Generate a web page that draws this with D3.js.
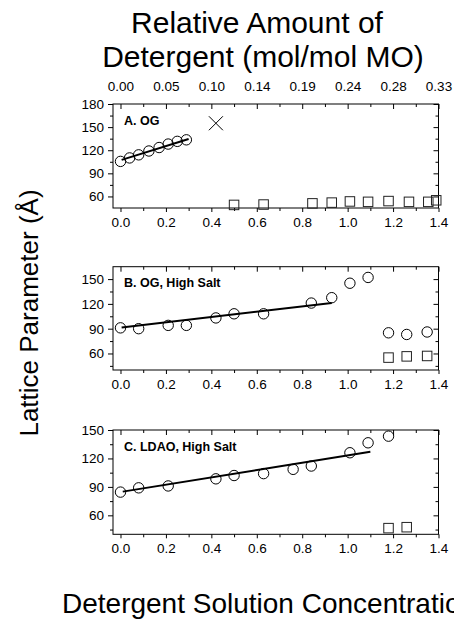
<!DOCTYPE html>
<html>
<head>
<meta charset="utf-8">
<script src="https://cdn.jsdelivr.net/npm/d3@7"></script>
<style>
  body { margin: 0; background: #fff; }
  text { font-family: "Liberation Sans", Arial, sans-serif; }
</style>
</head>
<body>
<div id="chart"></div>
<script>
// Bottom / top axis ticks (top labels = mol/mol MO at same positions)
var concTicks = [0.0, 0.2, 0.4, 0.6, 0.8, 1.0, 1.2, 1.4];
var topTickLabels = ["0.00", "0.05", "0.10", "0.14", "0.19", "0.24", "0.28", "0.33"];

// Panel A. OG
var ogX = [0, 0.04, 0.08, 0.125, 0.17, 0.21, 0.25, 0.29];
var ogY = [105.5, 110, 114, 119, 123.5, 128, 131.5, 133.5];
var ogFitX = [0.005, 0.30];
var ogFitY = [107.5, 134.5];
var ogCrossX = [0.42];
var ogCrossY = [155];
var ogSqX = [0.50, 0.63, 0.845, 0.93, 1.01, 1.09, 1.18, 1.27, 1.355, 1.39];
var ogSqY = [49, 49.5, 51, 52, 53.5, 53, 54, 53, 53, 55];

// Panel B. OG, High Salt
var ogSaltX = [0, 0.08, 0.21, 0.29, 0.42, 0.50, 0.63, 0.84, 0.93, 1.01, 1.09, 1.18, 1.26, 1.35];
var ogSaltY = [91, 90, 94, 94, 103, 108, 108, 121, 127.5, 145, 152, 85, 83, 86];
var ogSaltFitX = [0.005, 0.93];
var ogSaltFitY = [91.5, 121];
var ogSaltSqX = [1.18, 1.26, 1.35];
var ogSaltSqY = [55, 56.5, 57];

// Panel C. LDAO, High Salt
var ldaoX = [0, 0.08, 0.21, 0.42, 0.50, 0.63, 0.76, 0.84, 1.01, 1.09, 1.18];
var ldaoY = [84.5, 89, 91, 98.5, 102, 104, 108.5, 112, 126, 136.5, 143.5];
var ldaoFitX = [0.01, 1.10];
var ldaoFitY = [85, 127];
var ldaoSqX = [1.18, 1.26];
var ldaoSqY = [46.5, 47.5];

var width = 454, height = 619;
var left = 113, right = 438.5;

var svg = d3.select('#chart')
    .append('svg')
    .attr('width', width)
    .attr('height', height);

var x = d3.scaleLinear().domain([-0.033, 1.4]).range([left, right]);

var panels = [
    { label: 'A. OG', top: 104, bottom: 208, yDomain: [45, 180],
      yTicks: [60, 90, 120, 150, 180], yMinor: [75, 105, 135, 165],
      cx: ogX, cy: ogY, fx: ogFitX, fy: ogFitY, sx: ogSqX, sy: ogSqY,
      xx: ogCrossX, xy: ogCrossY, topLabels: true },
    { label: 'B. OG, High Salt', top: 266.7, bottom: 370, yDomain: [40, 165],
      yTicks: [60, 90, 120, 150], yMinor: [45, 75, 105, 135],
      cx: ogSaltX, cy: ogSaltY, fx: ogSaltFitX, fy: ogSaltFitY, sx: ogSaltSqX, sy: ogSaltSqY,
      xx: [], xy: [], topLabels: false },
    { label: 'C. LDAO, High Salt', top: 430, bottom: 534.3, yDomain: [40, 150],
      yTicks: [60, 90, 120, 150], yMinor: [45, 75, 105, 135],
      cx: ldaoX, cy: ldaoY, fx: ldaoFitX, fy: ldaoFitY, sx: ldaoSqX, sy: ldaoSqY,
      xx: [], xy: [], topLabels: false }
];

var minorX = [0.1, 0.3, 0.5, 0.7, 0.9, 1.1, 1.3];
var tickFont = 13.5;

function styleAxis(sel) {
    sel.select('.domain').remove();
    sel.selectAll('line').attr('stroke', '#000');
    sel.selectAll('text')
        .style('font-size', tickFont + 'px')
        .attr('fill', '#000');
}

panels.forEach(function (p) {
    var y = d3.scaleLinear().domain(p.yDomain).range([p.bottom, p.top]);
    var g = svg.append('g');

    // left axis (ticks outward)
    g.append('g').attr('transform', 'translate(' + left + ',0)')
        .call(d3.axisLeft(y).tickValues(p.yTicks).tickSize(5).tickPadding(4))
        .call(styleAxis);
    g.append('g').attr('transform', 'translate(' + left + ',0)')
        .call(d3.axisLeft(y).tickValues(p.yMinor).tickSize(3).tickFormat(''))
        .call(styleAxis);

    // right axis (ticks inward)
    g.append('g').attr('transform', 'translate(' + right + ',0)')
        .call(d3.axisRight(y).tickValues(p.yTicks).tickSize(-5).tickFormat(''))
        .call(styleAxis);
    g.append('g').attr('transform', 'translate(' + right + ',0)')
        .call(d3.axisRight(y).tickValues(p.yMinor).tickSize(-3).tickFormat(''))
        .call(styleAxis);

    // bottom axis (ticks outward)
    g.append('g').attr('transform', 'translate(0,' + p.bottom + ')')
        .call(d3.axisBottom(x).tickValues(concTicks).tickSize(4).tickPadding(5)
            .tickFormat(d3.format('.1f')))
        .call(styleAxis);
    g.append('g').attr('transform', 'translate(0,' + p.bottom + ')')
        .call(d3.axisBottom(x).tickValues(minorX).tickSize(3).tickFormat(''))
        .call(styleAxis);

    // top axis (ticks inward)
    var topAxis = d3.axisTop(x).tickValues(concTicks).tickSize(-5);
    if (p.topLabels) {
        topAxis.tickFormat(function (d, i) { return topTickLabels[i]; }).tickPadding(13);
    } else {
        topAxis.tickFormat('');
    }
    g.append('g').attr('transform', 'translate(0,' + p.top + ')')
        .call(topAxis)
        .call(styleAxis);
    g.append('g').attr('transform', 'translate(0,' + p.top + ')')
        .call(d3.axisTop(x).tickValues(minorX).tickSize(-3).tickFormat(''))
        .call(styleAxis);

    // frame
    g.append('rect')
        .attr('x', left).attr('y', p.top)
        .attr('width', right - left).attr('height', p.bottom - p.top)
        .attr('fill', 'none').attr('stroke', '#000').attr('stroke-width', 1);

    // fit line
    g.append('line')
        .attr('x1', x(p.fx[0])).attr('y1', y(p.fy[0]))
        .attr('x2', x(p.fx[1])).attr('y2', y(p.fy[1]))
        .attr('stroke', '#000').attr('stroke-width', 2);

    // circles
    g.selectAll('.pt')
        .data(d3.zip(p.cx, p.cy))
        .enter().append('circle')
        .attr('class', 'pt')
        .attr('cx', d => x(d[0])).attr('cy', d => y(d[1]))
        .attr('r', 5.2)
        .attr('fill', 'none').attr('stroke', '#000').attr('stroke-width', 1);

    // squares
    var s = 9.5;
    g.selectAll('.sq')
        .data(d3.zip(p.sx, p.sy))
        .enter().append('rect')
        .attr('class', 'sq')
        .attr('x', d => x(d[0]) - s / 2).attr('y', d => y(d[1]) - s / 2)
        .attr('width', s).attr('height', s)
        .attr('fill', 'none').attr('stroke', '#222').attr('stroke-width', 1);

    // crosses
    var c = 7;
    g.selectAll('.cross')
        .data(d3.zip(p.xx, p.xy))
        .enter().append('path')
        .attr('class', 'cross')
        .attr('d', function (d) {
            var px = x(d[0]), py = y(d[1]);
            return 'M' + (px - c) + ',' + (py - c) + 'L' + (px + c) + ',' + (py + c) +
                'M' + (px - c) + ',' + (py + c) + 'L' + (px + c) + ',' + (py - c);
        })
        .attr('stroke', '#000').attr('stroke-width', 1).attr('fill', 'none');

    // panel label
    g.append('text')
        .attr('x', 124).attr('y', p.top + 20.5)
        .style('font-size', '12.5px')
        .style('font-weight', 'bold')
        .text(p.label);
});

// titles
svg.append('text')
    .attr('x', 257).attr('y', 33)
    .attr('text-anchor', 'middle')
    .style('font-size', '30px')
    .text('Relative Amount of');
svg.append('text')
    .attr('x', 263).attr('y', 67)
    .attr('text-anchor', 'middle')
    .style('font-size', '30px')
    .text('Detergent (mol/mol MO)');

svg.append('text')
    .attr('transform', 'translate(38,313) rotate(-90)')
    .attr('text-anchor', 'middle')
    .style('font-size', '26px')
    .text('Lattice Parameter (Å)');

// the reference crops this title at the right edge
svg.append('text')
    .attr('x', 62).attr('y', 613)
    .style('font-size', '28px')
    .text('Detergent Solution Concentration');
</script>
</body>
</html>
